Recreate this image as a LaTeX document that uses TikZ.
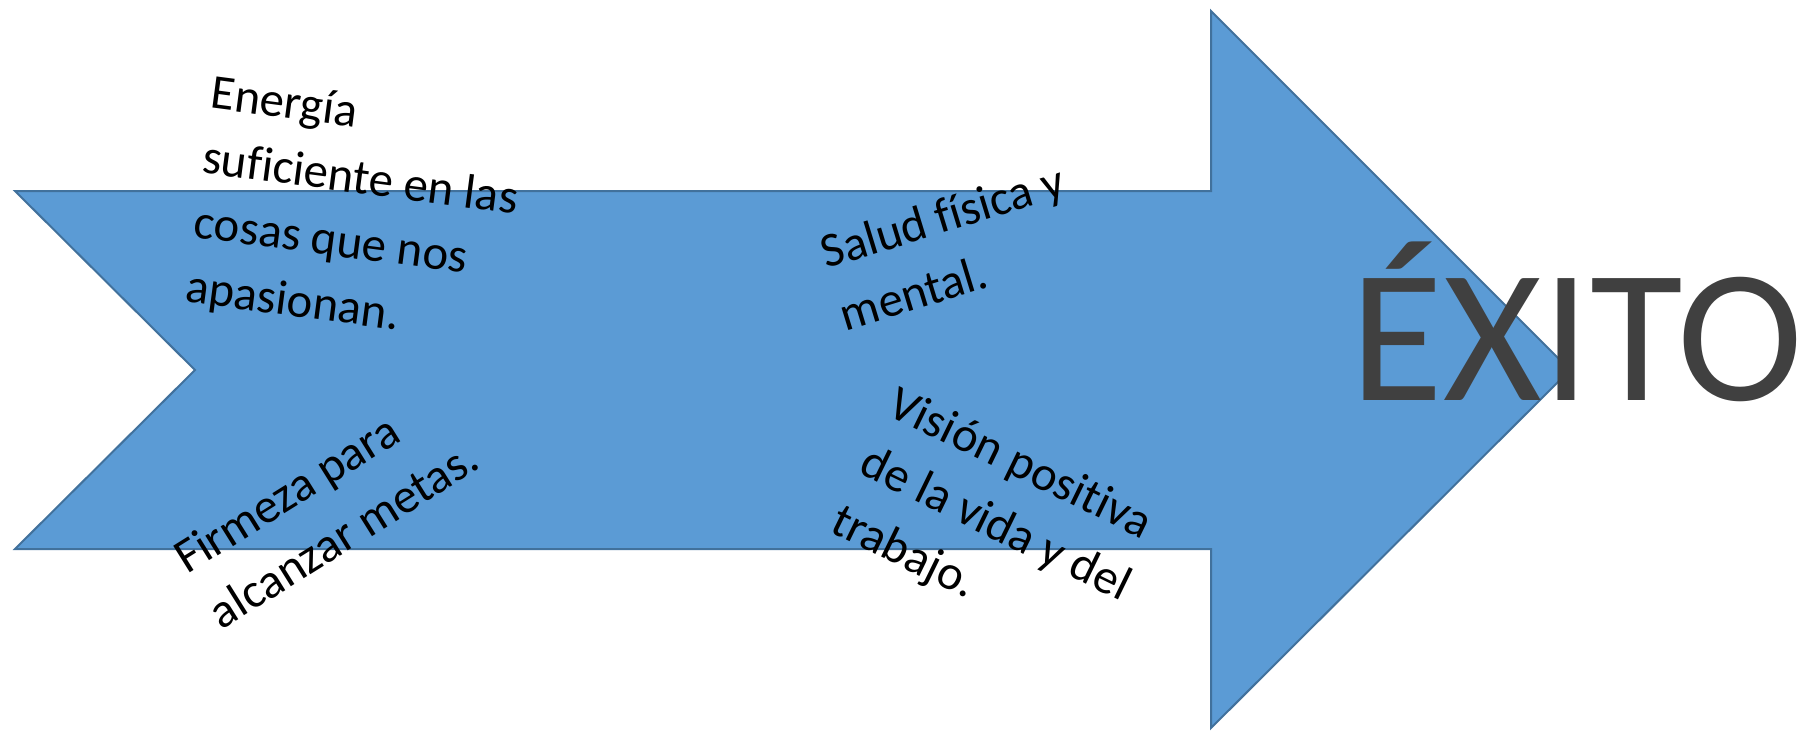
\documentclass[tikz,border=0pt]{standalone}
\usepackage{fontspec}
\setmainfont{Carlito}[Ligatures=NoCommon]
\usepackage{tikz}
\usetikzlibrary{calc}

\definecolor{arrowfill}{HTML}{5B9BD5}
\definecolor{arrowline}{HTML}{41719C}
\definecolor{exitogray}{HTML}{404040}

\begin{document}
\begin{tikzpicture}[x=0.5pt,y=-0.5pt,
        label/.style={align=left,inner sep=0pt,font=\fontsize{24.4}{32.6}\selectfont},
        goal/.style={inner sep=0pt,text=exitogray,font=\fontsize{95}{110}\selectfont}]
        \useasboundingbox (0,0) rectangle (1798,730);
        % big arrow
        \draw[fill=arrowfill,draw=arrowline,line width=1pt,line join=miter]
        (15,191) -- (1211,191) -- (1211,11) -- (1570,370) -- (1211,728) --
        (1211,549) -- (15,549) -- (195,370) -- cycle;

        \node[label,rotate=-7.5] (energia) at (356,213) {Energía\\suficiente
            en las\\cosas que nos\\apasionan.}; \node[label,rotate=32]
        (firmeza) at (326,507) {Firmeza para\\alcanzar metas.};
        \node[label,rotate=17] (salud) at (952,247) {Salud física y\\mental.};
        \node[label,rotate=-26] (vision) at (995,526) {Visión positiva\\de la
            vida y del\\trabajo.};

        \node[goal,anchor=base] (exito) at (1577,400) {ÉXITO};
    \end{tikzpicture}
\end{document}
